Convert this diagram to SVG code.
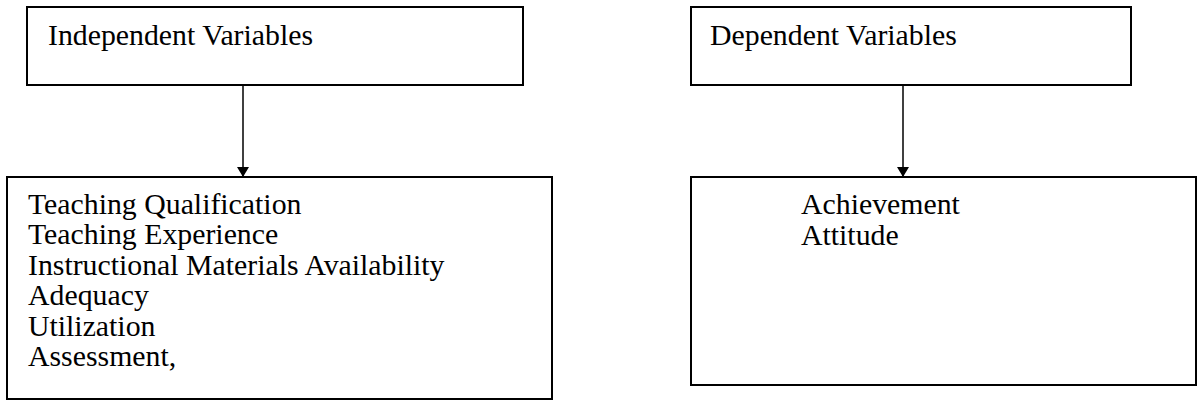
<svg xmlns="http://www.w3.org/2000/svg" width="1197" height="402" viewBox="0 0 1197 402">
<style>
.box{fill:#fff;stroke:#000;stroke-width:2}
.t{font-family:"Liberation Serif","Times New Roman",serif;font-size:29.8px;fill:#000}
.c{stroke:#000;stroke-width:1.5;fill:none}
</style>
<defs>
<marker id="ah" viewBox="0 0 10 12" refX="10" refY="6" markerWidth="10" markerHeight="12" markerUnits="userSpaceOnUse" orient="auto">
<path d="M0,0 L10,6 L0,12 Z" fill="#000"/>
</marker>
</defs>
<rect width="1197" height="402" fill="#fff"/>
<g id="connectors">
<line class="c" x1="243" y1="85" x2="243" y2="177" marker-end="url(#ah)"/>
<line class="c" x1="903" y1="85" x2="903" y2="177" marker-end="url(#ah)"/>
</g>
<g id="independent">
<rect class="box" x="27" y="7" width="496" height="78"/>
<text class="t" x="48" y="45">Independent Variables</text>
</g>
<g id="independent-list">
<rect class="box" x="7" y="177" width="545" height="222"/>
<text class="t" x="28" y="213.5">Teaching Qualification</text>
<text class="t" x="28" y="244">Teaching Experience</text>
<text class="t" x="28" y="274.5">Instructional Materials Availability</text>
<text class="t" x="28" y="305">Adequacy</text>
<text class="t" x="28" y="335.5">Utilization</text>
<text class="t" x="28" y="366">Assessment,</text>
</g>
<g id="dependent">
<rect class="box" x="691" y="7" width="440" height="78"/>
<text class="t" x="710" y="45">Dependent Variables</text>
</g>
<g id="dependent-list">
<rect class="box" x="691" y="177" width="505" height="208"/>
<text class="t" x="801" y="214">Achievement</text>
<text class="t" x="801" y="244.5">Attitude</text>
</g>
</svg>
